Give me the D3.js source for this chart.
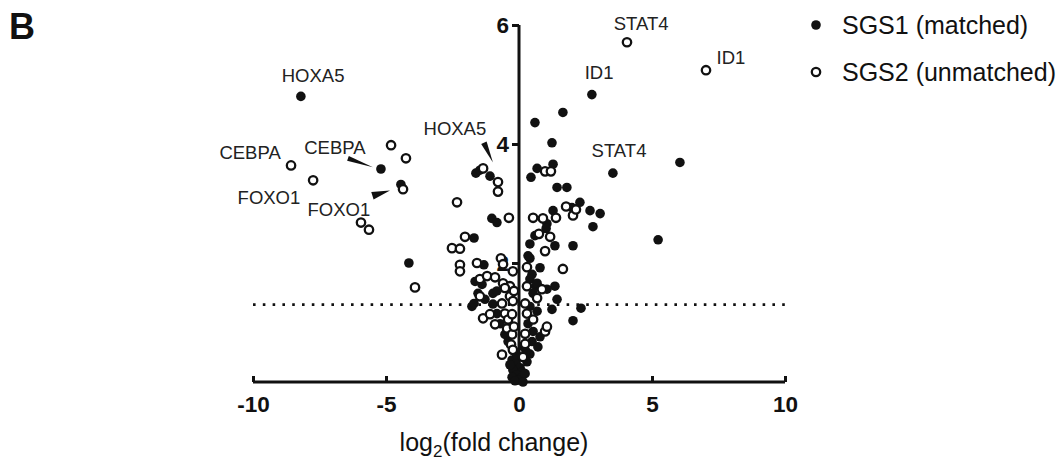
<!DOCTYPE html>
<html><head><meta charset="utf-8">
<script src="https://cdn.jsdelivr.net/npm/d3@7"></script>
<style>
html,body{margin:0;padding:0;background:#fff;}
svg{display:block;font-family:"Liberation Sans",Arial,sans-serif;}
</style></head>
<body><svg id="chart" width="1063" height="463"></svg>
<script>
// ---- data (log2 fold change, -log10 p) ----
const sgs1Points = [
  [-8.20,4.80],[-5.19,3.58],[-4.44,3.32],[-4.14,2.00],
  [-1.62,3.51],[-1.47,3.56],[-1.09,3.46],[-1.02,2.75],[-0.83,2.68],[-1.69,2.42],
  [-1.32,1.97],[-1.39,1.64],[-1.54,1.49],[-0.98,1.49],[-1.65,1.69],[-0.83,1.53],
  [-1.77,1.27],[-1.69,1.32],[-1.28,1.39],[-0.98,1.31],[-0.83,1.15],[-0.71,0.98],
  [-0.53,0.80],[-0.41,0.68],
  [0.60,4.36],[1.65,4.53],[1.24,4.02],[1.28,3.66],[0.68,3.59],[0.45,3.44],
  [2.74,4.83],[3.53,3.51],[6.05,3.69],[5.23,2.39],
  [1.43,3.27],[1.80,3.27],[1.99,2.93],[2.29,3.02],[2.67,2.88],[3.05,2.83],[2.78,2.61],
  [1.28,2.88],[1.05,2.66],[1.02,2.58],[0.60,2.46],[0.41,2.32],[1.35,2.29],[2.03,2.29],
  [0.34,2.12],[0.49,1.81],[0.64,1.61],[1.35,1.61],[0.41,2.08],[0.79,1.92],[0.41,1.73],
  [0.68,1.66],[1.05,1.56],[0.53,1.49],[1.43,1.39],[1.24,1.22],[2.33,1.24],[2.03,1.03],
  [0.41,1.27],[0.68,1.19],[0.34,0.98],[0.53,0.85],[0.79,0.76],[0.49,0.68],[0.71,0.59],
  [0.41,0.47],
  [-0.26,0.37],[-0.11,0.31],[0.04,0.24],[-0.23,0.20],[0.11,0.17],[-0.08,0.12],
  [-0.26,0.08],[0.08,0.07],[-0.04,0.03],[0.23,0.14],[-0.34,0.29],[0.30,0.34],
  [-0.15,0.02],[0.15,0.00],[0.26,0.52],[-0.08,0.45],[0.15,0.60]
];
const sgs2Points = [
  [4.06,5.71],[7.03,5.24],[-8.57,3.64],[-7.74,3.39],
  [-4.81,3.98],[-4.25,3.76],[-4.36,3.24],[-5.94,2.68],[-5.64,2.56],[-3.91,1.59],
  [-1.35,3.59],[-0.79,3.36],[-0.79,3.20],[-2.33,3.02],[-0.38,2.76],[-2.03,2.44],
  [-2.52,2.25],[-2.22,2.24],[-2.22,1.97],[-2.22,1.86],[-1.58,2.00],[-0.68,2.08],
  [-0.60,1.98],[-1.47,1.73],[-1.20,1.78],[-0.90,1.76],[-0.60,1.66],[-0.34,1.61],
  [-0.53,1.58],[-0.34,1.44],[-1.47,1.44],[-0.64,1.32],[-1.35,1.07],[-1.09,1.14],
  [-0.53,1.15],[-0.41,1.05],[-0.26,1.14],[-0.90,0.97],[-0.45,0.90],[-0.26,0.80],
  [-0.30,0.63],[-0.64,0.46],
  [0.98,3.54],[1.20,3.54],[1.77,2.95],[2.03,2.80],[2.14,2.90],[0.53,2.76],[0.90,2.75],
  [1.39,2.76],[1.17,2.44],[0.75,2.49],[0.98,2.20],[0.30,1.93],[1.65,1.90],
  [0.30,1.61],[0.86,1.56],[0.68,1.41],[0.23,1.32],[0.30,1.15],[0.53,1.05],[0.23,0.81],
  [0.98,0.85],[1.05,0.93],[0.23,0.64],[0.15,0.42],
  [-0.23,1.86],[-0.19,1.53],[-0.23,1.36],[-0.19,0.93],[-0.23,0.54]
];
const xTicks = [-10, -5, 0, 5, 10];
const yTicks = [2, 4, 6];
const significance = 1.3;
const geneLabels = [
  {text:"HOXA5", x:-7.74, y:5.15},
  {text:"CEBPA", x:-10.11, y:3.86},
  {text:"FOXO1", x:-9.40, y:3.10},
  {text:"CEBPA", x:-6.92, y:3.95},
  {text:"FOXO1", x:-6.77, y:2.90},
  {text:"HOXA5", x:-2.41, y:4.27},
  {text:"STAT4", x:4.59, y:6.03},
  {text:"ID1", x:7.97, y:5.46},
  {text:"ID1", x:3.01, y:5.20},
  {text:"STAT4", x:3.76, y:3.90}
];
const arrows = [
  {x1:-6.43, y1:3.76, x2:-5.49, y2:3.61, w:5},
  {x1:-5.51, y1:3.13, x2:-4.85, y2:3.22, w:8},
  {x1:-1.32, y1:4.02, x2:-0.98, y2:3.69, w:6}
];
const legendItems = [
  {label:"SGS1 (matched)", filled:true},
  {label:"SGS2 (unmatched)", filled:false}
];

// ---- drawing ----
const svg = d3.select("#chart");
const x = d3.scaleLinear().domain([-10, 10]).range([253, 785]);
const y = d3.scaleLinear().domain([0, 6]).range([382, 25]);
const ink = "#111";

// panel letter
svg.append("text").attr("x", 9).attr("y", 39).attr("font-size", 36)
  .attr("font-weight", "bold").attr("fill", ink).text("B");

// dotted significance line
svg.append("line").attr("x1", x(-10)).attr("x2", x(10))
  .attr("y1", y(significance)).attr("y2", y(significance))
  .attr("stroke", ink).attr("stroke-width", 2.6)
  .attr("stroke-dasharray", "2.6,7.2");

// x axis
const xAxis = svg.append("g").attr("transform", `translate(0,${y(0)})`)
  .call(d3.axisBottom(x).tickValues(xTicks).tickSize(-6).tickPadding(14).tickFormat(d => String(d)));
xAxis.select(".domain").attr("stroke", ink).attr("stroke-width", 3).attr("d", `M${x(-10)},0H${x(10)}`);
xAxis.selectAll(".tick line").attr("stroke", ink).attr("stroke-width", 3);
xAxis.selectAll(".tick text").attr("font-size", 22.5).attr("font-weight", "bold")
  .attr("fill", ink).attr("font-family", "Liberation Sans, Arial, sans-serif")
  .attr("dy", "0.71em");

// y axis
const yAxis = svg.append("g").attr("transform", `translate(${x(0)},0)`)
  .call(d3.axisLeft(y).tickValues(yTicks).tickSize(7).tickPadding(3).tickFormat(d => String(d)));
yAxis.select(".domain").attr("stroke", ink).attr("stroke-width", 3).attr("d", `M0,${y(6)}V${y(0)}`);
yAxis.selectAll(".tick line").attr("stroke", ink).attr("stroke-width", 3);
yAxis.selectAll(".tick text").attr("font-size", 22.5).attr("font-weight", "bold")
  .attr("fill", ink).attr("font-family", "Liberation Sans, Arial, sans-serif");

// axis title
const title = svg.append("text").attr("x", 494).attr("y", 451).attr("text-anchor", "middle")
  .attr("font-size", 25).attr("fill", ink);
title.append("tspan").text("log");
title.append("tspan").attr("font-size", 17).attr("dy", 6).text("2");
title.append("tspan").attr("dy", -6).text("(fold change)");

// points
svg.append("g").selectAll("circle").data(sgs1Points).join("circle")
  .attr("cx", d => x(d[0])).attr("cy", d => y(d[1])).attr("r", 4.8).attr("fill", ink);
svg.append("g").selectAll("circle").data(sgs2Points).join("circle")
  .attr("cx", d => x(d[0])).attr("cy", d => y(d[1])).attr("r", 4.2)
  .attr("fill", "#fff").attr("stroke", ink).attr("stroke-width", 2.3);

// arrows (wedges)
svg.append("g").selectAll("path").data(arrows).join("path")
  .attr("d", d => {
    const ax = x(d.x1), ay = y(d.y1), bx = x(d.x2), by = y(d.y2);
    const dx = bx - ax, dy = by - ay, L = Math.hypot(dx, dy);
    const nx = -dy / L * d.w / 2, ny = dx / L * d.w / 2;
    return `M${ax + nx},${ay + ny}L${bx},${by}L${ax - nx},${ay - ny}Z`;
  }).attr("fill", ink);

// gene labels
svg.append("g").selectAll("text").data(geneLabels).join("text")
  .attr("x", d => x(d.x)).attr("y", d => y(d.y)).attr("dy", "0.36em")
  .attr("text-anchor", "middle").attr("font-size", 18.5).attr("fill", "#222").text(d => d.text);

// legend
const lg = svg.append("g").selectAll("g").data(legendItems).join("g")
  .attr("transform", (d, i) => `translate(816,${25 + i * 47})`);
lg.append("circle").attr("r", d => d.filled ? 4.8 : 4.2)
  .attr("fill", d => d.filled ? ink : "#fff").attr("stroke", d => d.filled ? "none" : ink)
  .attr("stroke-width", 2.3);
lg.append("text").attr("x", 26).attr("dy", "0.36em").attr("font-size", 25).attr("fill", ink)
  .text(d => d.label);
</script></body></html>
